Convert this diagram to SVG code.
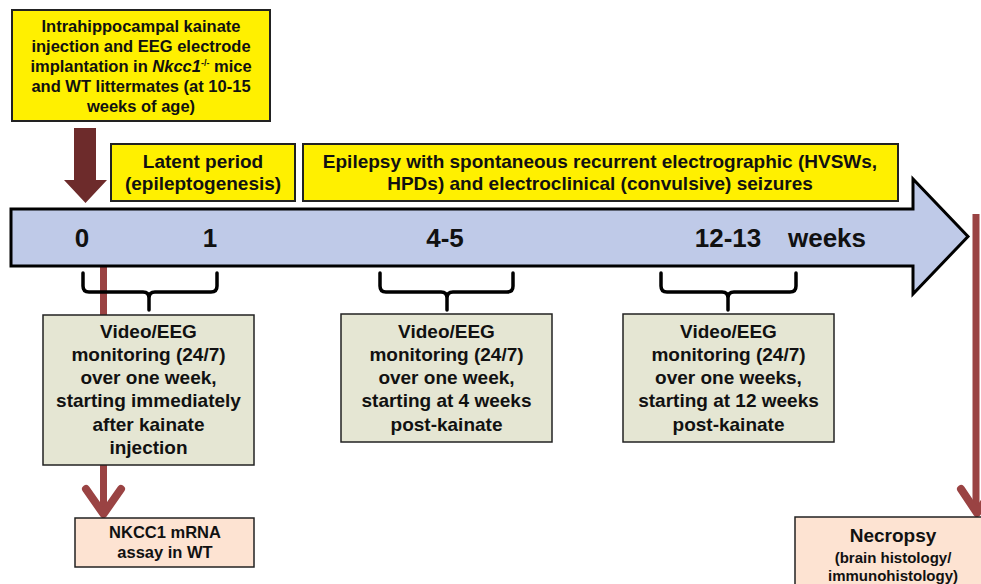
<svg xmlns="http://www.w3.org/2000/svg" width="981" height="584" viewBox="0 0 981 584">
<defs>
<style>
text{font-family:"Liberation Sans",Arial,Helvetica,sans-serif;font-weight:bold;fill:#111;text-anchor:middle}
.yel{fill:#fff000;stroke:#222;stroke-width:2}
.vid{fill:#e5e6d3;stroke:#222;stroke-width:1.5}
.out{fill:#fde3d2;stroke:#222;stroke-width:1.5}
.brk{fill:none;stroke:#000;stroke-width:3.5;stroke-linecap:round}
.red{stroke:#9a4343;stroke-width:7;fill:none}
.chev{stroke:#9a4343;stroke-width:8;fill:none;stroke-linecap:round;stroke-linejoin:round}
.t19{font-size:19px}
.t16{font-size:16.5px}
.ax{font-size:26px}
</style>
</defs>
<rect width="981" height="584" fill="#fff"/>

<g id="connectors">
<line class="red" x1="103.5" y1="262" x2="103.5" y2="512"/>
<polyline class="chev" points="86,489 103.5,514 121,489"/>
<line class="red" x1="976" y1="214" x2="976" y2="512"/>
<polyline class="chev" points="961,489 977,513 993,489"/>
<path class="brk" d="M83,273 L83,286 Q83,292 89,292 L143,292 Q149,292 149,298 L149,310 M149,298 Q149,292 155,292 L211,292 Q217,292 217,286 L217,273"/>
<path class="brk" d="M380,273 L380,286 Q380,292 386,292 L441,292 Q447,292 447,298 L447,310 M447,298 Q447,292 453,292 L507,292 Q513,292 513,286 L513,273"/>
<path class="brk" d="M661,273 L661,286 Q661,292 667,292 L722,292 Q728,292 728,298 L728,310 M728,298 Q728,292 734,292 L790,292 Q796,292 796,286 L796,273"/>
<polygon id="start-arrow" points="74,128 96,128 96,180 107,180 85.5,203 64,180 74,180" fill="#6d2b2b"/>
</g>

<g id="timeline">
<polygon points="11,209 913,209 913,179 968,236.5 913,294 913,266 11,266" fill="#bfcae8" stroke="#000" stroke-width="3" stroke-linejoin="miter"/>
<text class="ax" x="82" y="247">0</text>
<text class="ax" x="210" y="247">1</text>
<text class="ax" x="445" y="247">4-5</text>
<text class="ax" x="728" y="247">12-13</text>
<text class="ax" x="827" y="247">weeks</text>
</g>

<g id="injection">
<rect class="yel" x="12" y="10" width="258" height="111"/>
<text class="t16" x="141" y="32">Intrahippocampal kainate</text>
<text class="t16" x="141" y="52">injection and EEG electrode</text>
<text class="t16" x="141" y="72">implantation in <tspan font-style="italic">Nkcc1</tspan><tspan font-size="9" dy="-6">-/-</tspan><tspan dy="6"> mice</tspan></text>
<text class="t16" x="141" y="92">and WT littermates (at 10-15</text>
<text class="t16" x="141" y="112">weeks of age)</text>
</g>

<g id="latent">
<rect class="yel" x="111" y="144" width="184" height="57"/>
<text class="t19" x="203" y="168">Latent period</text>
<text class="t19" x="203" y="190">(epileptogenesis)</text>
</g>

<g id="epilepsy">
<rect class="yel" x="303" y="144" width="595" height="57"/>
<text class="t19" x="600" y="168">Epilepsy with spontaneous recurrent electrographic (HVSWs,</text>
<text class="t19" x="600" y="190">HPDs) and electroclinical (convulsive) seizures</text>
</g>

<g id="video1">
<rect class="vid" x="43" y="315" width="211" height="150"/>
<text class="t19" x="148.5" y="338">Video/EEG</text>
<text class="t19" x="148.5" y="361">monitoring (24/7)</text>
<text class="t19" x="148.5" y="384">over one week,</text>
<text class="t19" x="148.5" y="407">starting immediately</text>
<text class="t19" x="148.5" y="431">after kainate</text>
<text class="t19" x="148.5" y="454">injection</text>
</g>

<g id="video2">
<rect class="vid" x="341" y="314" width="211" height="128"/>
<text class="t19" x="446.5" y="338">Video/EEG</text>
<text class="t19" x="446.5" y="361">monitoring (24/7)</text>
<text class="t19" x="446.5" y="384">over one week,</text>
<text class="t19" x="446.5" y="407">starting at 4 weeks</text>
<text class="t19" x="446.5" y="431">post-kainate</text>
</g>

<g id="video3">
<rect class="vid" x="623" y="314" width="211" height="128"/>
<text class="t19" x="728.5" y="338">Video/EEG</text>
<text class="t19" x="728.5" y="361">monitoring (24/7)</text>
<text class="t19" x="728.5" y="384">over one weeks,</text>
<text class="t19" x="728.5" y="407">starting at 12 weeks</text>
<text class="t19" x="728.5" y="431">post-kainate</text>
</g>

<g id="nkcc1">
<rect class="out" x="75" y="518" width="179" height="49"/>
<text class="t16" x="165" y="538">NKCC1 mRNA</text>
<text class="t16" x="165" y="558">assay in WT</text>
</g>

<g id="necropsy">
<rect class="out" x="795" y="517" width="200" height="90"/>
<text class="t19" x="893" y="542">Necropsy</text>
<text x="893" y="563" font-size="15px">(brain histology/</text>
<text x="893" y="581" font-size="15px">immunohistology)</text>
</g>
</svg>
